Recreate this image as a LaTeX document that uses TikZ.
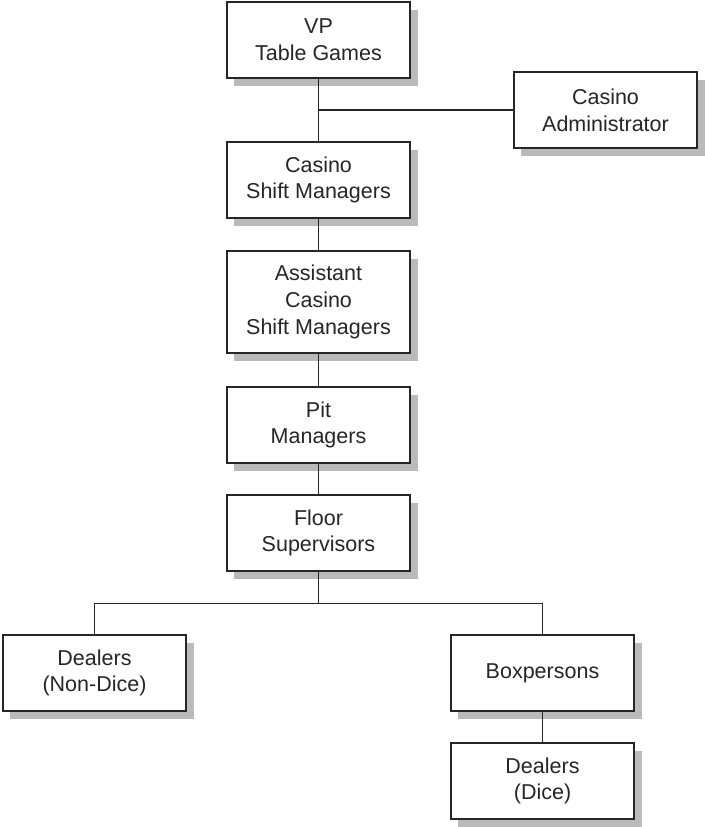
\documentclass[tikz,border=0pt]{standalone}
\usepackage{fontspec}
\usetikzlibrary{calc}
\setmainfont{Liberation Sans}
\begin{document}
\begin{tikzpicture}[x=1pt,y=-1pt,
  orgbox/.style={draw=black!85, line width=1.4pt, fill=white, align=center,
    inner sep=0pt, minimum width=183pt,
    font=\fontsize{21.5}{26.8}\selectfont, text=black!85},
  shade/.style={fill=black!27, draw=none},
  link/.style={draw=black!85, line width=1.4pt}]
\useasboundingbox (0,0) rectangle (704,827);
% box geometry: (left, top, right, bottom)
\def\orgunit#1#2#3#4#5#6{%
  \fill[shade] (#2+7,#3+8) rectangle (#4+8,#5+8);
  \node[orgbox, minimum height=#5-#3] (#1) at ({(#2+#4)/2},{(#3+#5)/2}) {#6};}
\orgunit{vp}{227}{2}{410}{78}{VP\\Table Games}
\orgunit{admin}{514}{72}{697}{148}{Casino\\Administrator}
\orgunit{shift}{227}{142}{410}{218}{Casino\\Shift Managers}
\orgunit{asst}{227}{251}{410}{353}{Assistant\\Casino\\Shift Managers}
\orgunit{pit}{227}{387}{410}{463}{Pit\\Managers}
\orgunit{floor}{227}{495}{410}{571}{Floor\\Supervisors}
\orgunit{nondice}{3}{635}{186}{711}{Dealers\\(Non-Dice)}
\orgunit{box}{451}{635}{634}{711}{Boxpersons}
\orgunit{dice}{451}{743}{634}{819}{Dealers\\(Dice)}
% connectors
\coordinate (tee) at (vp.south |- admin.west);
\coordinate (split) at ($(floor.south)+(0,32)$);
\draw[link] (vp.south) -- (shift.north);
\draw[link] (tee) -- (admin.west);
\draw[link] (shift.south) -- (asst.north);
\draw[link] (asst.south) -- (pit.north);
\draw[link] (pit.south) -- (floor.north);
\draw[link] (floor.south) -- (split);
\draw[link] (nondice.north) |- (split) -| (box.north);
\draw[link] (box.south) -- (dice.north);
\end{tikzpicture}
\end{document}
